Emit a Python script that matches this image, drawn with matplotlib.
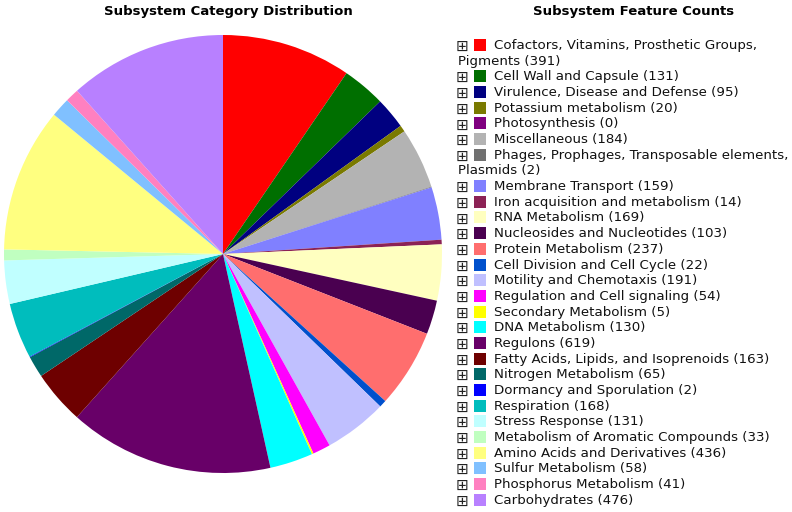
import matplotlib
matplotlib.use("Agg")
import matplotlib.pyplot as plt
from matplotlib.patches import Rectangle

W, H = 792, 512

CATEGORIES = [
    "Cofactors, Vitamins, Prosthetic Groups,\nPigments", "Cell Wall and Capsule",
    "Virulence, Disease and Defense", "Potassium metabolism", "Photosynthesis",
    "Miscellaneous", "Phages, Prophages, Transposable elements,\nPlasmids",
    "Membrane Transport", "Iron acquisition and metabolism", "RNA Metabolism",
    "Nucleosides and Nucleotides", "Protein Metabolism", "Cell Division and Cell Cycle",
    "Motility and Chemotaxis", "Regulation and Cell signaling", "Secondary Metabolism",
    "DNA Metabolism", "Regulons", "Fatty Acids, Lipids, and Isoprenoids",
    "Nitrogen Metabolism", "Dormancy and Sporulation", "Respiration", "Stress Response",
    "Metabolism of Aromatic Compounds", "Amino Acids and Derivatives",
    "Sulfur Metabolism", "Phosphorus Metabolism", "Carbohydrates",
]
COUNTS = [391, 131, 95, 20, 0, 184, 2, 159, 14, 169, 103, 237, 22, 191, 54, 5,
          130, 619, 163, 65, 2, 168, 131, 33, 436, 58, 41, 476]
COLORS = ["#ff0000", "#006f00", "#000080", "#7a7a00", "#800080", "#b3b3b3",
          "#707070", "#8080ff", "#8c2255", "#ffffc0", "#4a0050", "#ff6e6e",
          "#0050cc", "#c0c0ff", "#ff00ff", "#ffff00", "#00ffff", "#680068",
          "#6e0000", "#006868", "#0000ff", "#00bdbd", "#c0ffff", "#c0ffc0",
          "#ffff80", "#80c0ff", "#ff80c0", "#b880ff"]


def fx(px):
    return px / W


def fy(py):
    return 1 - py / H


fig = plt.figure(figsize=(W / 100, H / 100), dpi=100)

# pie: centre (223, 254) px, radius 219 px
cx, cy, r = 223, 254, 219
ax = fig.add_axes([fx(cx - r), fy(cy + r), 2 * r / W, 2 * r / H])
ax.pie(COUNTS, colors=COLORS, startangle=90, counterclock=False,
       wedgeprops={"linewidth": 0}, radius=1.0)
ax.set_xlim(-1, 1); ax.set_ylim(-1, 1)
ax.set_aspect("auto")
ax.axis("off")

fig.text(fx(228), fy(11), "Subsystem Category Distribution", ha="center", va="center",
         fontsize=9.5, fontweight="bold", family="DejaVu Sans")
fig.text(fx(634), fy(11), "Subsystem Feature Counts", ha="center", va="center",
         fontsize=9.5, fontweight="bold", family="DejaVu Sans")

# legend: expander glyph, colour swatch, label (long labels wrap to the left edge)
y = 45.5
step = 15.68
for name, n, c in zip(CATEGORIES, COUNTS, COLORS):
    fig.text(fx(462), fy(y + 1), "\u229e", ha="center", va="center", fontsize=11,
             color="#222222")
    fig.add_artist(Rectangle((fx(474), fy(y + 5.5)), 12 / W, 12 / H, color=c,
                             transform=fig.transFigure, lw=0))
    lines = f"{name} ({n})".split("\n")
    fig.text(fx(494), fy(y), lines[0], ha="left", va="center", fontsize=9.6,
             color="#111111")
    y += step
    for extra in lines[1:]:
        fig.text(fx(458), fy(y), extra, ha="left", va="center", fontsize=9.6,
                 color="#111111")
        y += step

fig.savefig("out.png", dpi=100)
